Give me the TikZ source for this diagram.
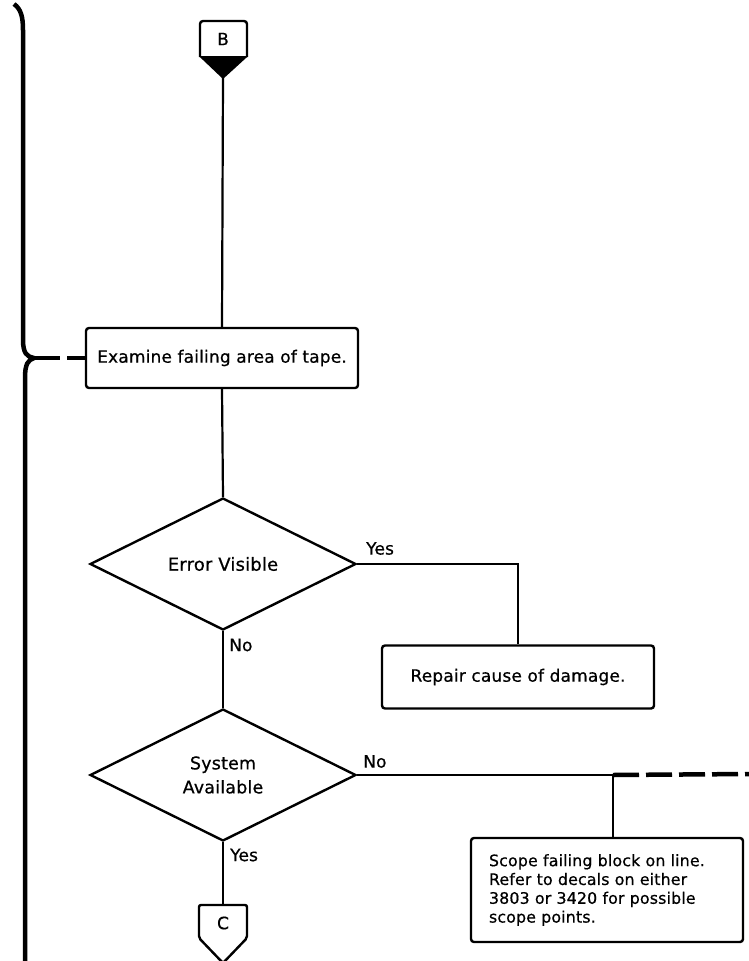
\documentclass[tikz,border=0pt]{standalone}
\usepackage{fontspec}
\setmainfont{DejaVu Sans}[LetterSpace=1,FakeBold=0.6]
\usetikzlibrary{shapes.geometric}
\begin{document}
\begin{tikzpicture}[x=1pt,y=-1pt,
  every node/.style={font=\fontsize{17}{19}\selectfont},
  line/.style={line width=2.2pt},
  procbox/.style={draw,line width=2.4pt,rounded corners=3pt,inner sep=0pt},
  decide/.style={draw,diamond,line width=2.4pt,inner sep=0pt,minimum width=266pt,minimum height=132pt,align=center},
  brace/.style={line width=4.5pt},
  thickdash/.style={line width=4.5pt,dash pattern=on 26pt off 7pt},
  lbl/.style={inner sep=0pt}]
\useasboundingbox (0,0) rectangle (748,961);

% left brace
\coordinate (tip) at (34,358);
\draw[brace] (14,4) .. controls (21,9) and (23,17) .. (23,30) -- (23,340) .. controls (23,353) and (27,357) .. (tip);
\draw[brace] (tip) .. controls (28,360) and (25,364) .. (25,378) -- (25,961);

% B connector
\node (B) at (223,39) {B};
\draw[line width=2.4pt,rounded corners=3pt] (200,57) -- (200,21) -- (247,21) -- (247,57);
\fill (198.8,56) -- (248.2,56) -- (223,79) -- cycle;
\coordinate (Btip) at (223,78);

% boxes
\node[procbox,minimum width=272pt,minimum height=60pt] (exam) at (222,358) {Examine failing area of tape.};
\node[decide,font=\fontsize{18}{24}\selectfont] (d1) at (223,564) {Error Visible};
\node[procbox,minimum width=272pt,minimum height=63pt] (rep) at (518,677) {Repair cause of damage.};
\node[decide,font=\fontsize{17.5}{24}\selectfont] (d2) at (223,775) {System\\Available};
\node[procbox,minimum width=272pt,minimum height=104pt,align=left,text width=236pt,font=\fontsize{15.8}{18.8}\selectfont] (scope) at (607,890) {Scope failing block on line.\\Refer to decals on either\\3803 or 3420 for possible\\scope points.};

% C connector
\node (C) at (223,923) {C};
\draw[line width=2.4pt,rounded corners=2pt] (199,938) -- (199,905) -- (247,905) -- (247,938) -- (223,963) -- cycle;
\coordinate (Ctop) at (223,905);

% connectors
\draw[line] (Btip) -- (exam.north);
\draw[line] (exam.south) -- (d1.north);
\draw[line] (d1.east) -| (rep.north);
\draw[line] (d1.south) -- (d2.north);
\coordinate (j) at (613,775);
\draw[line] (d2.east) -- (j) -- (j |- scope.north);
\draw[line] (d2.south) -- (Ctop);
\coordinate (rt) at (750,774);
\draw[thickdash] (j) -- (rt);
\draw[thickdash] (tip) -- (exam.west);

% labels
\node[lbl,anchor=south west] (y1) at (366,555) {Yes};
\node[lbl,anchor=west] (n1) at (229,645) {No};
\node[lbl,anchor=south west] (n2) at (363,768) {No};
\node[lbl,anchor=west] (y2) at (230,855) {Yes};
\end{tikzpicture}
\end{document}
